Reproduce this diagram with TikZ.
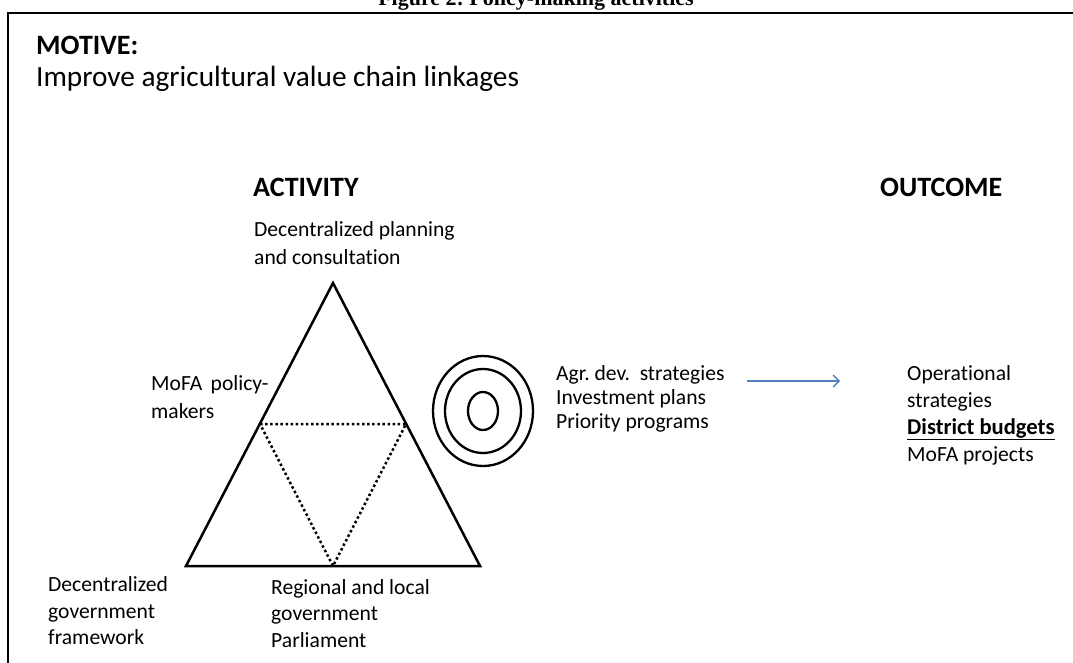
\documentclass[tikz,border=0pt]{standalone}
\usepackage{fontspec}
\setmainfont{Carlito}[Ligatures=NoCommon]
\newfontfamily\titlefont{Liberation Serif}
\usetikzlibrary{arrows.meta}
\definecolor{arrowblue}{RGB}{79,129,189}
\frenchspacing
\tikzset{
  lbl/.style={anchor=base west, inner sep=0pt, font=\fontsize{21.6}{26}\selectfont},
  head/.style={anchor=base west, inner sep=0pt, font=\fontsize{28}{34}\selectfont\bfseries},
  motivetext/.style={anchor=base west, inner sep=0pt, font=\fontsize{29.3}{34}\selectfont},
  frameline/.style={line width=2pt, black},
  triline/.style={line width=2.5pt, black, line join=miter},
  dotline/.style={line width=2.5pt, black, dash pattern=on 2.5pt off 2.6pt},
  ring/.style={line width=2.3pt, black},
  flow/.style={arrowblue, line width=1.3pt, -{Straight Barb[length=6pt,width=12pt]}}
}
\begin{document}
\begin{tikzpicture}[x=1pt,y=-1pt]
\clip (0,0) rectangle (1073,662);
\fill[white] (0,0) rectangle (1073,662);
% title (cut off at top, as in the reference)
\node[anchor=base, inner sep=0pt, font=\titlefont\fontsize{22}{26}\selectfont\bfseries] (title) at (536,5) {Figure 2: Policy-making activities};
% frame
\coordinate (fbl) at (8,700);
\coordinate (ftl) at (8,13);
\coordinate (ftr) at (1100,13);
\draw[frameline] (fbl) -- (ftl) -- (ftr);
% motive
\node[head] (motive) at (36,54) {MOTIVE:};
\node[motivetext] (motivetxt) at (36,86) {Improve agricultural value chain linkages};
% headings
\node[head] (activity) at (253,196) {ACTIVITY};
\node[head] (outcome) at (880,196) {OUTCOME};
% top label
\node[lbl] (top1) at (254,236) {Decentralized planning};
\node[lbl] (top2) at (254,264) {and consultation};
% left label
\node[lbl] (mofa1) at (151,390) {MoFA\, policy-};
\node[lbl] (mofa2) at (151,418) {makers};
% triangle
\coordinate (apex) at (333,283);
\coordinate (bl) at (186,566);
\coordinate (br) at (480,566);
\coordinate (ml) at (260,424);
\coordinate (mr) at (406,424);
\coordinate (mb) at (333,566);
\draw[triline] (apex) -- (bl) -- (br) -- cycle;
\draw[dotline] (ml) -- (mr) -- (mb) -- cycle;
% rings
\coordinate (rc) at (483,411);
\draw[ring] (rc) ellipse [x radius=50pt, y radius=55pt];
\draw[ring] (rc) ellipse [x radius=38pt, y radius=42pt];
\draw[ring] (rc) ellipse [x radius=15pt, y radius=19pt];
% middle list
\node[lbl] (agr) at (556,380) {Agr.\ dev.\ \ strategies};
\node[lbl] (inv) at (556,404) {Investment plans};
\node[lbl] (prio) at (556,428) {Priority programs};
% arrow
\coordinate (ast) at (747,381);
\coordinate (aen) at (840,381);
\draw[flow] (ast) -- (aen);
% outcome list
\node[lbl] (op1) at (907,380) {Operational};
\node[lbl] (op2) at (907,407) {strategies};
\node[lbl, font=\fontsize{22.6}{26}\selectfont] (dist) at (907,434) {\underline{\textbf{District budgets}}};
\node[lbl] (proj) at (907,461) {MoFA projects};
% bottom labels
\node[lbl] (dg1) at (48,591) {Decentralized};
\node[lbl] (dg2) at (48,618) {government};
\node[lbl] (dg3) at (48,644) {framework};
\node[lbl] (rl1) at (271,594) {Regional and local};
\node[lbl] (rl2) at (271,620) {government};
\node[lbl] (rl3) at (271,647) {Parliament};
\end{tikzpicture}
\end{document}
